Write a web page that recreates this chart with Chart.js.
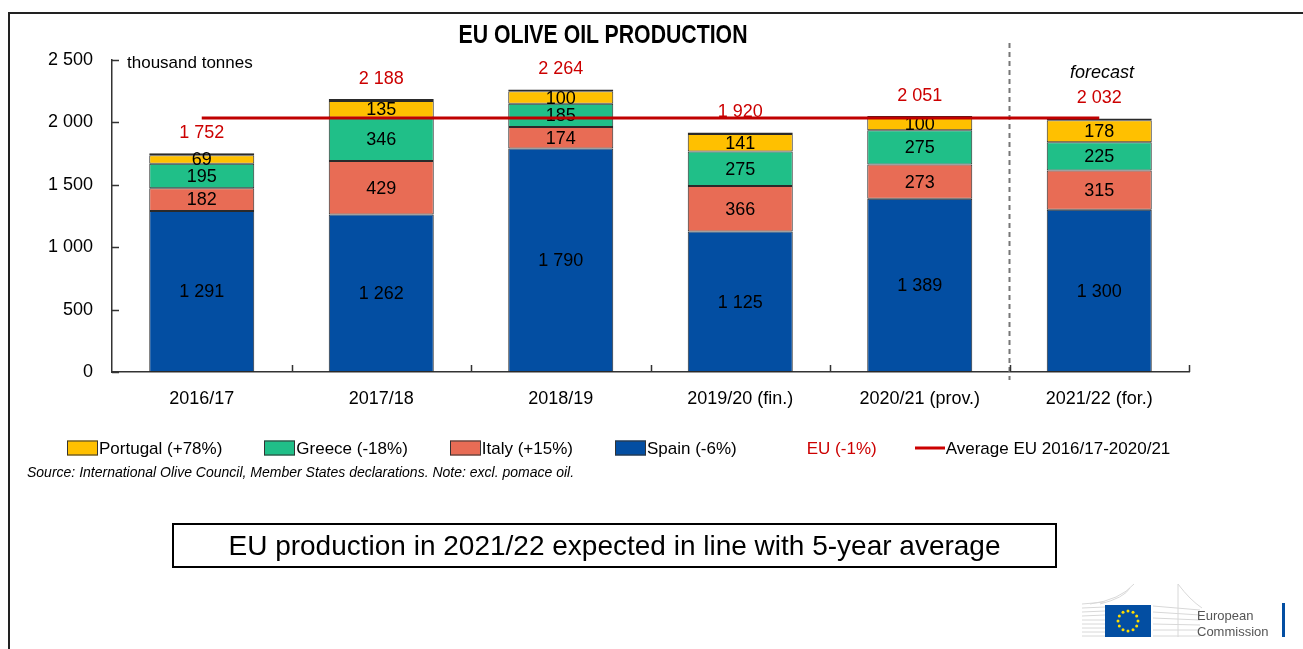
<!DOCTYPE html>
<html>
<head>
<meta charset="utf-8">
<script src="https://cdn.jsdelivr.net/npm/chart.js@4.4.0/dist/chart.umd.min.js"></script>
<style>
  body { margin: 0; background: #fff; width: 1303px; height: 649px; overflow: hidden; position: relative;
         font-family: "Liberation Sans", Arial, sans-serif; }
  #frame { position: absolute; left: 8px; top: 12px; width: 1400px; height: 700px;
           border-left: 2px solid #222; border-top: 2px solid #222; }
  #c { position: absolute; left: 0; top: 0; }
  .t { position: absolute; white-space: nowrap; line-height: 1; transform: translateY(-50%); }
  #title { left: 603px; top: 34px; font-weight: bold; font-size: 25px; }
  #legend { position: absolute; left: 67px; top: 448px; transform: translateY(-50%); display: flex;
            align-items: center; font-size: 17px; line-height: 1; }
  .item { display: flex; align-items: center; margin-right: 42px; }
  .box { width: 29px; height: 13px; border: 1px solid #333; margin-right: 1px; }
  .ln { width: 30px; height: 3px; margin-right: 1px; }
  #note { position: absolute; left: 172px; top: 523px; width: 881px; height: 41px; border: 2px solid #000;
          display: flex; align-items: center; justify-content: center; font-size: 28px; }
</style>
</head>
<body>
<div id="frame"></div>
<canvas id="c" width="1303" height="649"></canvas>
<div id="title" class="t">EU OLIVE OIL PRODUCTION</div>
<div class="t" style="left:127px;top:62px;font-size:17px;">thousand tonnes</div>
<div class="t" style="left:1102px;top:72px;font-size:18px;font-style:italic;transform:translate(-50%,-50%);">forecast</div>
<div id="legend"></div>
<div class="t" style="left:27px;top:472px;font-size:14px;font-style:italic;">Source: International Olive Council, Member States declarations. Note: excl. pomace oil.</div>
<div id="note">EU production in 2021/22 expected in line with 5-year average</div>
<svg style="position:absolute;left:1080px;top:580px;" width="215" height="62">
  <g stroke="#d8d8d8" stroke-width="1">
    <line x1="2" y1="24" x2="25" y2="22"/><line x1="2" y1="28" x2="25" y2="27"/>
    <line x1="2" y1="32" x2="25" y2="31"/><line x1="2" y1="36" x2="25" y2="35"/>
    <line x1="2" y1="40" x2="25" y2="40"/><line x1="2" y1="44" x2="25" y2="44"/>
    <line x1="2" y1="48" x2="25" y2="48"/><line x1="2" y1="52" x2="25" y2="52"/>
    <line x1="2" y1="56" x2="25" y2="56"/>
    <path d="M10 24 Q40 20 54 4" fill="none"/><path d="M20 24 Q44 18 50 8" fill="none"/>
    <line x1="98" y1="4" x2="98" y2="57"/>
    <line x1="73" y1="26" x2="120" y2="30"/><line x1="73" y1="32" x2="120" y2="35"/>
    <line x1="73" y1="38" x2="120" y2="40"/><line x1="73" y1="44" x2="120" y2="45"/>
    <line x1="73" y1="50" x2="120" y2="50"/><line x1="73" y1="56" x2="120" y2="56"/>
    <path d="M98 4 Q110 20 122 28" fill="none"/>
  </g>
  <rect x="25" y="25" width="46" height="32" fill="#034ea2"/>
  <g id="stars" fill="#ffdd00"></g>
  <text x="117" y="40" font-size="13" fill="#555" font-family="Liberation Sans, Arial, sans-serif">European</text>
  <text x="117" y="56" font-size="13" fill="#555" font-family="Liberation Sans, Arial, sans-serif">Commission</text>
  <rect x="202" y="23" width="3" height="34" fill="#034ea2"/>
</svg>
<script>
const seasons = ['2016/17', '2017/18', '2018/19', '2019/20 (fin.)', '2020/21 (prov.)', '2021/22 (for.)'];
const spain = [1291, 1262, 1790, 1125, 1389, 1300];
const italy = [182, 429, 174, 366, 273, 315];
const greece = [195, 346, 185, 275, 275, 225];
const portugal = [69, 135, 100, 141, 100, 178];
const otherEu = [15, 16, 15, 13, 14, 14];
const euTotal = [1752, 2188, 2264, 1920, 2051, 2032];
const euAverage = [2035, 2035, 2035, 2035, 2035, 2035];
const yTicks = [0, 500, 1000, 1500, 2000, 2500];

const legendLabels = ['Portugal (+78%)', 'Greece (-18%)', 'Italy (+15%)', 'Spain (-6%)', 'EU (-1%)', 'Average EU 2016/17-2020/21'];

const RED = '#cc0000';
const FONT = '"Liberation Sans", Arial, sans-serif';
const colors = { spain: '#034ea2', italy: '#e86c55', greece: '#20bf88', portugal: '#ffc000', other: '#4b3a8a' };

function fmt(v) {
  return String(v).replace(/\B(?=(\d{3})+(?!\d))/g, ' ');
}

// squeeze the bold title to the narrow width of the original
(function () {
  const el = document.getElementById('title');
  const sx = 289 / el.getBoundingClientRect().width;
  el.style.transform = `translate(-50%, -50%) scaleX(${sx})`;
})();

// EU flag stars
(function () {
  const g = document.getElementById('stars');
  let s = '';
  for (let k = 0; k < 12; k++) {
    const a = k * Math.PI / 6;
    s += `<circle cx="${48 + 10 * Math.sin(a)}" cy="${41 - 10 * Math.cos(a)}" r="1.5"/>`;
  }
  g.innerHTML = s;
})();

// legend
(function () {
  const sw = [colors.portugal, colors.greece, colors.italy, colors.spain, null, RED];
  let html = '';
  legendLabels.forEach((lab, i) => {
    if (i === 4) {
      html += `<div class="item" style="color:${RED};margin-left:28px;margin-right:38px">${lab}</div>`;
    } else if (i === 5) {
      html += `<div class="item"><div class="ln" style="background:${sw[i]}"></div>${lab}</div>`;
    } else {
      html += `<div class="item"><div class="box" style="background:${sw[i]}"></div>${lab}</div>`;
    }
  });
  document.getElementById('legend').innerHTML = html;
})();

const barLabels = {
  id: 'barLabels',
  beforeDatasetDraw(chart, args) {
    if (args.meta.type !== 'line') return;
    const ctx = chart.ctx;
    ctx.save();
    ctx.font = '18px ' + FONT;
    ctx.textAlign = 'center';
    ctx.textBaseline = 'middle';
    ctx.fillStyle = '#000';
    [0, 1, 2, 3].forEach(di => {
      chart.getDatasetMeta(di).data.forEach((bar, i) => {
        ctx.fillText(fmt(chart.data.datasets[di].data[i]), bar.x, (bar.y + bar.base) / 2 + 1);
      });
    });
    ctx.fillStyle = RED;
    const x = chart.scales.x, y = chart.scales.y;
    euTotal.forEach((v, i) => {
      ctx.fillText(fmt(v), x.getPixelForValue(i), y.getPixelForValue(v) - 20);
    });
    ctx.restore();
  }
};

const axisMarks = {
  id: 'axisMarks',
  beforeDatasetsDraw(chart) {
    const ctx = chart.ctx, x = chart.scales.x, y = chart.scales.y;
    const step = x.getPixelForValue(1) - x.getPixelForValue(0);
    const xd = x.getPixelForValue(4) + step / 2;
    ctx.save();
    ctx.strokeStyle = '#777';
    ctx.lineWidth = 2;
    ctx.setLineDash([5, 4]);
    ctx.beginPath();
    ctx.moveTo(xd, 43);
    ctx.lineTo(xd, y.bottom + 8);
    ctx.stroke();
    ctx.restore();
  },
  afterDraw(chart) {
    const ctx = chart.ctx, x = chart.scales.x, y = chart.scales.y;
    const step = x.getPixelForValue(1) - x.getPixelForValue(0);
    ctx.save();
    ctx.strokeStyle = '#333';
    ctx.lineWidth = 1.5;
    ctx.beginPath();
    yTicks.forEach(v => {
      const py = Math.round(y.getPixelForValue(v)) + 0.5;
      ctx.moveTo(x.left, py);
      ctx.lineTo(x.left + 7, py);
    });
    for (let i = 0; i < seasons.length; i++) {
      const px = Math.round(x.getPixelForValue(i) + step / 2) + 0.5;
      ctx.moveTo(px, y.bottom);
      ctx.lineTo(px, y.bottom - 7);
    }
    ctx.stroke();
    ctx.restore();
  }
};

const barDs = (label, data, color) => ({
  type: 'bar', label, data, backgroundColor: color, borderColor: '#2a2a2a', borderWidth: 1,
  borderSkipped: false, order: 1, stack: 'eu', categoryPercentage: 1, barPercentage: 0.585
});

new Chart(document.getElementById('c'), {
  data: {
    labels: seasons,
    datasets: [
      barDs('Spain', spain, colors.spain),
      barDs('Italy', italy, colors.italy),
      barDs('Greece', greece, colors.greece),
      barDs('Portugal', portugal, colors.portugal),
      barDs('Other', otherEu, colors.other),
      { type: 'line', label: 'Average EU 2016/17-2020/21', data: euAverage, borderColor: '#c00000',
        borderWidth: 3, pointRadius: 0, order: 0, tension: 0 }
    ]
  },
  options: {
    responsive: false,
    animation: false,
    layout: { padding: { left: 12, top: 60, right: 114, bottom: 237 } },
    plugins: { legend: { display: false }, tooltip: { enabled: false }, title: { display: false } },
    scales: {
      x: {
        stacked: true,
        offset: true,
        grid: { display: false, drawTicks: false },
        border: { display: true, color: '#333', width: 1.5 },
        ticks: { color: '#000', font: { size: 18, family: FONT }, padding: 16, maxRotation: 0 },
        afterFit: s => { s.height = 40; }
      },
      y: {
        stacked: true,
        min: 0,
        max: 2500,
        grid: { display: false, drawTicks: false },
        border: { display: true, color: '#333', width: 1.5 },
        ticks: { stepSize: 500, color: '#000', padding: 19,
                 font: { size: 18, family: FONT },
                 callback: v => fmt(v) },
        afterFit: s => { s.width = 100; }
      }
    }
  },
  plugins: [barLabels, axisMarks]
});
</script>
</body>
</html>
